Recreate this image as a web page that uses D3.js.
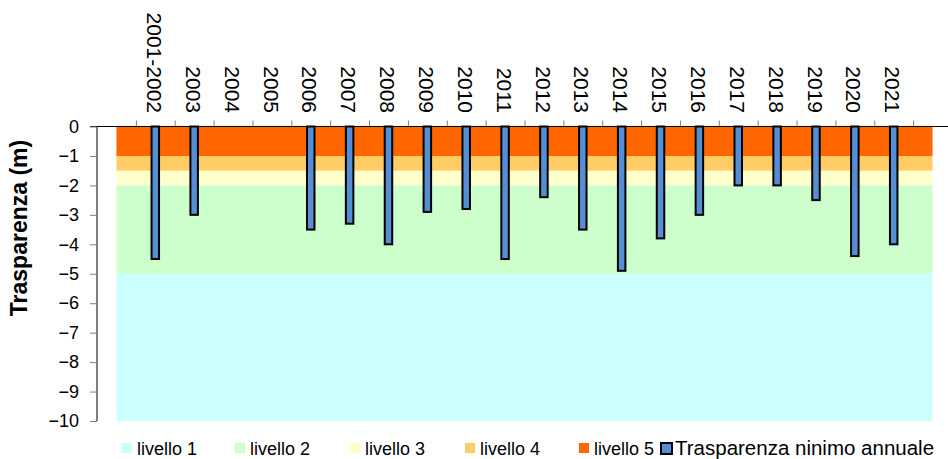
<!DOCTYPE html>
<html>
<head>
<meta charset="utf-8">
<script src="https://cdn.jsdelivr.net/npm/d3@7"></script>
<style>
  body { margin: 0; background: #fff; }
  text { font-family: Arial, "Liberation Sans", sans-serif; }
</style>
</head>
<body>
<div id="chart"></div>
<script>
// categorie (slot vuoti ai bordi come nel grafico originale)
const anni = ["", "2001-2002", "2003", "2004", "2005", "2006", "2007", "2008", "2009", "2010",
  "2011", "2012", "2013", "2014", "2015", "2016", "2017", "2018", "2019", "2020", "2021", ""];
// trasparenza minima annuale (m), null = nessun dato
const trasparenza = [null, -4.5, -3.0, null, null, -3.5, -3.3, -4.0, -2.9, -2.8,
  -4.5, -2.4, -3.5, -4.9, -3.8, -3.0, -2.0, -2.0, -2.5, -4.4, -4.0, null];
// spessore delle fasce dei livelli (m), dalla superficie verso il basso
const livelli = ["livello 5", "livello 4", "livello 3", "livello 2", "livello 1"];
const spessori = [-1, -0.5, -0.5, -3, -5];
const coloriLivelli = ["#FF6600", "#FFCC66", "#FFFFCC", "#CCFFCC", "#CCFFFF"];
const yTicks = [0, -1, -2, -3, -4, -5, -6, -7, -8, -9, -10];
const legenda = ["livello 1", "livello 2", "livello 3", "livello 4", "livello 5", "Trasparenza ninimo annuale"];

const W = 948, H = 459;
const svg = d3.select("#chart").append("svg").attr("width", W).attr("height", H);

const x = d3.scaleLinear().domain([0, anni.length]).range([97, 952]);
const cx = i => x(i + 0.5);
const y = d3.scaleLinear().domain([0, -10]).range([126.5, 421]);

// fasce di livello come area impilata
const rows = anni.map((a, i) => {
  const r = { i: i };
  livelli.forEach((l, k) => r[l] = spessori[k]);
  return r;
});
const stack = d3.stack().keys(livelli).offset(d3.stackOffsetDiverging)(rows);
const area = d3.area()
  .x(d => cx(d.data.i))
  .y0(d => y(d[0]))
  .y1(d => y(d[1]));
svg.append("g").selectAll("path")
  .data(stack)
  .join("path")
    .attr("fill", (d, k) => coloriLivelli[k])
    .attr("d", area);

// barre
svg.append("g").selectAll("rect")
  .data(trasparenza.map((v, i) => ({ v: v, i: i })).filter(d => d.v !== null))
  .join("rect")
    .attr("x", d => cx(d.i) - 3.75)
    .attr("y", y(0))
    .attr("width", 7.5)
    .attr("height", d => y(d.v) - y(0))
    .attr("fill", "#558ED5")
    .attr("stroke", "#000")
    .attr("stroke-width", 2);

// asse x in alto
const xAxis = svg.append("g").attr("transform", `translate(0,${y(0)})`)
  .call(d3.axisTop(x).tickValues(d3.range(1, anni.length)).tickSize(6).tickFormat(""));
xAxis.select(".domain").remove();
xAxis.selectAll(".tick line").attr("stroke", "#808080");
svg.append("line")
  .attr("x1", 90).attr("x2", W).attr("y1", y(0)).attr("y2", y(0))
  .attr("stroke", "#000");

svg.append("g").selectAll("text")
  .data(anni.map((a, i) => ({ a: a, i: i })).filter(d => d.a))
  .join("text")
    .attr("transform", d => `translate(${cx(d.i) - 1},113) rotate(90)`)
    .attr("text-anchor", "end")
    .attr("dy", "0.35em")
    .attr("font-size", 21)
    .text(d => d.a);

// asse y
const yAxis = svg.append("g").attr("transform", "translate(97,0)")
  .call(d3.axisLeft(y).tickValues(yTicks).tickSize(7).tickPadding(11).tickFormat(d3.format("d")));
yAxis.select(".domain").attr("stroke", "#000").attr("d", `M0,${y(0)}V${y(-10)}`);
yAxis.selectAll(".tick line").attr("stroke", "#808080");
yAxis.selectAll(".tick text").attr("font-size", 18).attr("fill", "#000")
  .attr("font-family", "Arial, 'Liberation Sans', sans-serif");

svg.append("text")
  .attr("transform", "translate(27,228) rotate(-90)")
  .attr("text-anchor", "middle")
  .attr("font-size", 23)
  .attr("font-weight", "bold")
  .text("Trasparenza (m)");

// legenda
const legX = [122, 235, 350, 465, 579, 661];
const legCol = ["#CCFFFF", "#CCFFCC", "#FFFFCC", "#FFCC66", "#FF6600"];
const leg = svg.append("g").selectAll("g")
  .data(legenda)
  .join("g")
    .attr("transform", (d, i) => `translate(${legX[i]},443)`);
leg.append("rect")
  .attr("width", (d, i) => i < 5 ? 10 : 11)
  .attr("height", (d, i) => i < 5 ? 10 : 11)
  .attr("fill", (d, i) => i < 5 ? legCol[i] : "#558ED5")
  .attr("stroke", (d, i) => i < 5 ? "none" : "#000")
  .attr("stroke-width", 2);
leg.append("text")
  .attr("x", (d, i) => i < 5 ? 15 : 14)
  .attr("y", 12)
  .attr("font-size", (d, i) => i < 5 ? 18 : 20.5)
  .text(d => d);
</script>
</body>
</html>
